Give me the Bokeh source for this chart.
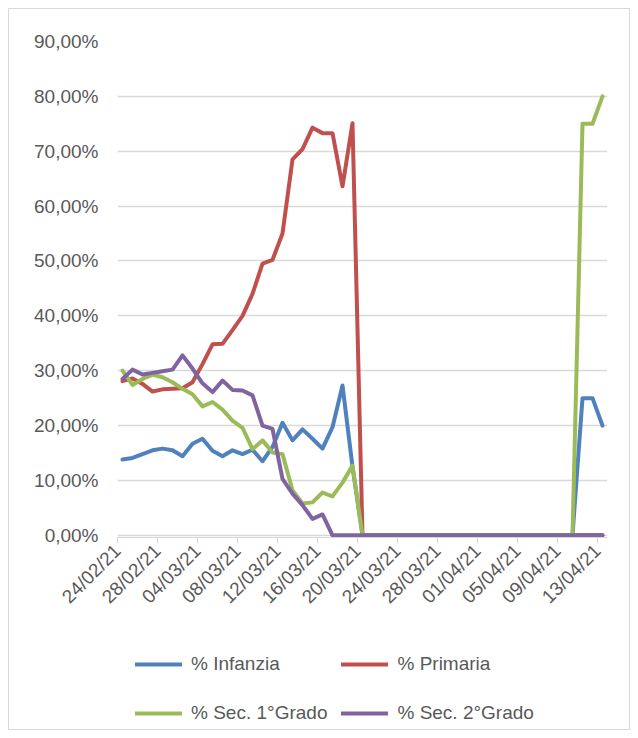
import pandas as pd
from bokeh.plotting import figure
from bokeh.layouts import column
from bokeh.models import Range1d, FixedTicker, Legend, LegendItem
from bokeh.embed import file_html
from bokeh.resources import INLINE

# ---- data -------------------------------------------------------------
dates = pd.date_range("2021-02-24", "2021-04-13", freq="D")

infanzia = [13.8, 14.1, 14.8, 15.5, 15.8, 15.5, 14.4, 16.7, 17.6, 15.4,
            14.4, 15.5, 14.8, 15.6, 13.5, 16.1, 20.5, 17.3, 19.3, 17.6,
            15.8, 19.7, 27.3, 12.5, 0, 0, 0, 0, 0, 0,
            0, 0, 0, 0, 0, 0, 0, 0, 0, 0,
            0, 0, 0, 0, 0, 0, 25.0, 25.0, 20.0]
primaria = [28.1, 28.6, 27.6, 26.2, 26.6, 26.7, 26.8, 27.9, 31.2, 34.8,
            34.9, 37.4, 40.0, 44.0, 49.5, 50.2, 55.0, 68.5, 70.4, 74.3,
            73.3, 73.3, 63.6, 75.1, 0, 0, 0, 0, 0, 0,
            0, 0, 0, 0, 0, 0, 0, 0, 0, 0,
            0, 0, 0, 0, 0, 0, 0, 0, 0]
sec1 = [30.0, 27.4, 28.5, 29.3, 28.8, 27.9, 26.7, 25.7, 23.5, 24.3,
        22.9, 20.9, 19.6, 15.7, 17.3, 15.1, 14.8, 8.2, 5.8, 6.0,
        7.8, 7.1, 9.6, 12.7, 0, 0, 0, 0, 0, 0,
        0, 0, 0, 0, 0, 0, 0, 0, 0, 0,
        0, 0, 0, 0, 0, 0, 75.0, 75.0, 80.0]
sec2 = [28.5, 30.2, 29.3, 29.6, 29.9, 30.2, 32.8, 30.4, 27.7, 26.1,
        28.2, 26.5, 26.4, 25.5, 20.0, 19.4, 10.3, 7.6, 5.5, 3.0,
        3.8, 0, 0, 0, 0, 0, 0, 0, 0, 0,
        0, 0, 0, 0, 0, 0, 0, 0, 0, 0,
        0, 0, 0, 0, 0, 0, 0, 0, 0]

series_names = ["% Infanzia", "% Primaria", "% Sec. 1°Grado", "% Sec. 2°Grado"]
series_colors = ["#4F81BD", "#C0504D", "#9BBB59", "#8064A2"]

x_tick_labels = ["24/02/21", "28/02/21", "04/03/21", "08/03/21", "12/03/21",
                 "16/03/21", "20/03/21", "24/03/21", "28/03/21", "01/04/21",
                 "05/04/21", "09/04/21", "13/04/21"]
y_ticks = [0, 10, 20, 30, 40, 50, 60, 70, 80, 90]
y_tick_labels = ["0,00%", "10,00%", "20,00%", "30,00%", "40,00%",
                 "50,00%", "60,00%", "70,00%", "80,00%", "90,00%"]

# ---- chart figure -----------------------------------------------------
FONT = "Liberation Sans"
TXT = "#595959"
GRID = "#d9d9d9"
half_day = pd.Timedelta(hours=12)

p = figure(x_axis_type="datetime", output_backend="svg", toolbar_location=None,
           frame_width=490, frame_height=496,
           min_border_left=108, min_border_right=22,
           min_border_top=32, min_border_bottom=92,
           x_range=Range1d(dates[0] - half_day, dates[-1] + half_day),
           y_range=Range1d(-0.4, 90),
           background_fill_color="white", border_fill_color="white",
           outline_line_color=None)

renderers = []
for vals, col in zip([infanzia, primaria, sec1, sec2], series_colors):
    r = p.line(dates, vals, line_color=col, line_width=4,
               line_join="round", line_cap="round")
    renderers.append(r)

tick_dt = pd.to_datetime(x_tick_labels, format="%d/%m/%y") - half_day
tick_ms = [float(t.value // 10**6) for t in tick_dt]
p.xaxis.ticker = FixedTicker(ticks=tick_ms)
p.xaxis.major_label_overrides = {ms: lab for ms, lab in zip(tick_ms, x_tick_labels)}
p.xaxis.major_label_orientation = 0.785398
p.xaxis.axis_line_color = GRID
p.xaxis.major_tick_line_color = GRID
p.xaxis.major_tick_in = 0
p.xaxis.major_tick_out = 6
p.xaxis.minor_tick_line_color = None
p.xaxis.major_label_text_font = FONT
p.xaxis.major_label_text_font_size = "19px"
p.xaxis.major_label_text_color = TXT
p.xaxis.major_label_standoff = 4

p.yaxis.ticker = FixedTicker(ticks=y_ticks)
p.yaxis.major_label_overrides = {v: lab for v, lab in zip(y_ticks, y_tick_labels)}
p.yaxis.axis_line_color = None
p.yaxis.major_tick_line_color = None
p.yaxis.minor_tick_line_color = None
p.yaxis.major_tick_in = 0
p.yaxis.major_tick_out = 0
p.yaxis.major_label_standoff = 19
p.yaxis.major_label_text_font = FONT
p.yaxis.major_label_text_font_size = "19px"
p.yaxis.major_label_text_color = TXT

p.xgrid.visible = False
p.ygrid.ticker = FixedTicker(ticks=y_ticks)
p.ygrid.grid_line_color = GRID
p.ygrid.grid_line_width = 1.5

# ---- legend figure ----------------------------------------------------
lg = figure(width=620, height=100, output_backend="svg", toolbar_location=None,
            min_border=0, x_range=Range1d(0, 1), y_range=Range1d(0, 1),
            background_fill_color="white", border_fill_color="white",
            outline_line_color=None)
lg.axis.visible = False
lg.grid.visible = False
nan = float("nan")
lg_renderers = [lg.line([nan], [nan], line_color=c, line_width=4, line_cap="round")
                for c in series_colors]
legend = Legend(items=[LegendItem(label=n, renderers=[r]) for n, r in zip(series_names, lg_renderers)],
                location=(18, -1), orientation="horizontal", ncols=2,
                glyph_width=47, glyph_height=20, label_height=35, label_standoff=9,
                spacing=14, padding=0, margin=0,
                border_line_color=None, background_fill_alpha=0,
                label_text_font=FONT, label_text_font_size="19px", label_text_color=TXT)
lg.add_layout(legend)

layout = column(p, lg, spacing=0, margin=(8, 8, 8, 8),
                styles={"border": "1px solid #d9d9d9"})

open("out.html", "w").write(file_html(layout, INLINE))
